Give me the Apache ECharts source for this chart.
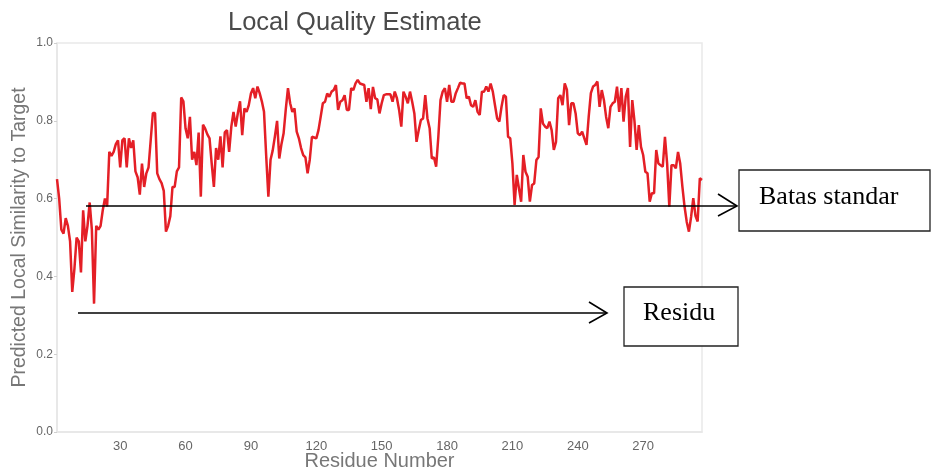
<!DOCTYPE html>
<html>
<head>
<meta charset="utf-8">
<title>Local Quality Estimate</title>
<script src="https://cdn.jsdelivr.net/npm/echarts@6/dist/echarts.min.js"></script>
<style>
  html, body { margin: 0; padding: 0; background: #fff; }
  #chart { width: 931px; height: 470px; }
</style>
</head>
<body>
<div id="chart"></div>
<script>
// Per-residue local quality score (residues 1..297)
const scores = [
  0.65, 0.60, 0.52, 0.51, 0.55, 0.53, 0.49, 0.36, 0.42, 0.50,
  0.49, 0.41, 0.57, 0.49, 0.53, 0.59, 0.52, 0.33, 0.53, 0.52,
  0.53, 0.57, 0.60, 0.58, 0.72, 0.71, 0.72, 0.74, 0.75, 0.68,
  0.75, 0.755, 0.68, 0.755, 0.73, 0.75, 0.67, 0.655, 0.61, 0.69,
  0.63, 0.665, 0.68, 0.75, 0.82, 0.82, 0.665, 0.65, 0.64, 0.62,
  0.515, 0.53, 0.555, 0.63, 0.63, 0.67, 0.68, 0.86, 0.85, 0.78,
  0.755, 0.81, 0.70, 0.72, 0.686, 0.77, 0.605, 0.79, 0.78, 0.765,
  0.755, 0.69, 0.63, 0.73, 0.70, 0.76, 0.68, 0.77, 0.776, 0.72,
  0.785, 0.823, 0.785, 0.82, 0.85, 0.763, 0.832, 0.823, 0.84, 0.87,
  0.884, 0.858, 0.888, 0.871, 0.85, 0.823, 0.71, 0.605, 0.70, 0.724,
  0.76, 0.80, 0.703, 0.74, 0.768, 0.83, 0.884, 0.845, 0.823, 0.832,
  0.772, 0.755, 0.73, 0.712, 0.706, 0.665, 0.70, 0.759, 0.757, 0.755,
  0.776, 0.81, 0.845, 0.849, 0.87, 0.862, 0.875, 0.879, 0.892, 0.828,
  0.849, 0.853, 0.866, 0.828, 0.828, 0.884, 0.879, 0.896, 0.905, 0.896,
  0.894, 0.892, 0.849, 0.884, 0.83, 0.887, 0.858, 0.855, 0.819, 0.845,
  0.866, 0.868, 0.868, 0.868, 0.849, 0.875, 0.858, 0.828, 0.785, 0.875,
  0.862, 0.845, 0.875, 0.849, 0.819, 0.746, 0.776, 0.802, 0.806, 0.866,
  0.806, 0.781, 0.703, 0.706, 0.682, 0.759, 0.853, 0.875, 0.884, 0.849,
  0.892, 0.849, 0.849, 0.871, 0.884, 0.898, 0.896, 0.896, 0.858, 0.862,
  0.84, 0.836, 0.853, 0.823, 0.815, 0.875, 0.875, 0.888, 0.875, 0.896,
  0.875, 0.84, 0.806, 0.798, 0.836, 0.866, 0.862, 0.759, 0.755, 0.69,
  0.584, 0.661, 0.626, 0.592, 0.712, 0.669, 0.656, 0.592, 0.635, 0.639,
  0.699, 0.707, 0.832, 0.793, 0.785, 0.781, 0.798, 0.776, 0.725, 0.746,
  0.858, 0.866, 0.84, 0.896, 0.88, 0.789, 0.845, 0.845, 0.819, 0.768,
  0.763, 0.772, 0.755, 0.738, 0.81, 0.871, 0.888, 0.892, 0.901, 0.836,
  0.879, 0.853, 0.81, 0.781, 0.836, 0.845, 0.849, 0.888, 0.823, 0.884,
  0.798, 0.862, 0.884, 0.733, 0.853, 0.80, 0.725, 0.789, 0.733, 0.712,
  0.669, 0.665, 0.592, 0.614, 0.614, 0.725, 0.69, 0.686, 0.682, 0.759,
  0.69, 0.579, 0.686, 0.686, 0.678, 0.72, 0.69, 0.631, 0.579, 0.54,
  0.515, 0.553, 0.601, 0.556, 0.541, 0.652, 0.648
];
const residues = scores.map((_, i) => i + 1);

// Axis labels
const xTickValues = [30, 60, 90, 120, 150, 180, 210, 240, 270];
const yTickStep = 0.2;

// Annotation captions
const noteThreshold = 'Batas standar';
const noteResidue = 'Residu';

const chart = echarts.init(document.getElementById('chart'), null, { renderer: 'canvas' });

const sans = '"Liberation Sans", Arial, sans-serif';
const serif = '"Liberation Serif", "Times New Roman", serif';

chart.setOption({
  animation: false,
  backgroundColor: '#ffffff',
  title: {
    text: 'Local Quality Estimate',
    left: 228,
    top: 10,
    padding: 0,
    textStyle: { fontFamily: sans, fontSize: 25.5, fontWeight: 'normal', color: '#4a4a4a' }
  },
  grid: {
    left: 57, right: 229, top: 43, bottom: 38,
    containLabel: false,
    outerBoundsMode: 'none',
    show: true, borderColor: '#e9e9e9', borderWidth: 1.5, backgroundColor: 'transparent'
  },
  xAxis: {
    type: 'value',
    min: 1,
    max: 297,
    name: 'Residue Number',
    nameLocation: 'middle',
    nameGap: 19,
    nameMoveOverlap: false,
    nameTextStyle: { fontFamily: sans, fontSize: 20, color: '#777' },
    axisLine: { show: true, lineStyle: { color: '#e6e6e6', width: 1.5 } },
    axisTick: { show: false },
    splitLine: { show: false },
    axisLabel: {
      customValues: xTickValues,
      fontFamily: sans, fontSize: 13, color: '#666', margin: 8
    }
  },
  yAxis: {
    type: 'value',
    min: 0,
    max: 1,
    interval: yTickStep,
    name: 'Predicted Local Similarity to Target',
    nameLocation: 'middle',
    nameGap: 27,
    nameMoveOverlap: false,
    nameTextStyle: { fontFamily: sans, fontSize: 19.5, color: '#777' },
    axisLine: { show: true, lineStyle: { color: '#e6e6e6', width: 1.5 } },
    axisTick: { show: true, length: 3, lineStyle: { color: '#cfcfcf' } },
    splitLine: { show: false },
    axisLabel: {
      formatter: v => v.toFixed(1),
      fontFamily: sans, fontSize: 12, color: '#666', margin: 4
    }
  },
  series: [{
    type: 'line',
    data: residues.map((r, i) => [r, scores[i]]),
    showSymbol: false,
    lineStyle: { color: '#e41f26', width: 2.5 },
    itemStyle: { color: '#e41f26' },
    z: 3
  }],
  graphic: [
    // arrow pointing to the threshold note
    { type: 'line', z: 100, shape: { x1: 86, y1: 206, x2: 737, y2: 206 },
      style: { stroke: '#000', lineWidth: 1.6 } },
    { type: 'polyline', z: 100, shape: { points: [[718, 194], [737, 206], [718, 216]] },
      style: { stroke: '#000', lineWidth: 1.6, fill: null } },
    { type: 'rect', z: 100, shape: { x: 739, y: 170, width: 191, height: 61 },
      style: { stroke: '#222', lineWidth: 1.3, fill: '#fff' } },
    { type: 'text', z: 101, x: 759, y: 197,
      style: { text: noteThreshold, font: '26px ' + serif, fill: '#000', verticalAlign: 'middle', align: 'left' } },
    // arrow pointing to the residue note
    { type: 'line', z: 100, shape: { x1: 78, y1: 313, x2: 607, y2: 313 },
      style: { stroke: '#000', lineWidth: 1.6 } },
    { type: 'polyline', z: 100, shape: { points: [[589, 302], [607, 313], [589, 323]] },
      style: { stroke: '#000', lineWidth: 1.6, fill: null } },
    { type: 'rect', z: 100, shape: { x: 624, y: 287, width: 114, height: 59 },
      style: { stroke: '#222', lineWidth: 1.3, fill: '#fff' } },
    { type: 'text', z: 101, x: 643, y: 313,
      style: { text: noteResidue, font: '26px ' + serif, fill: '#000', verticalAlign: 'middle', align: 'left' } }
  ]
});
</script>
</body>
</html>
